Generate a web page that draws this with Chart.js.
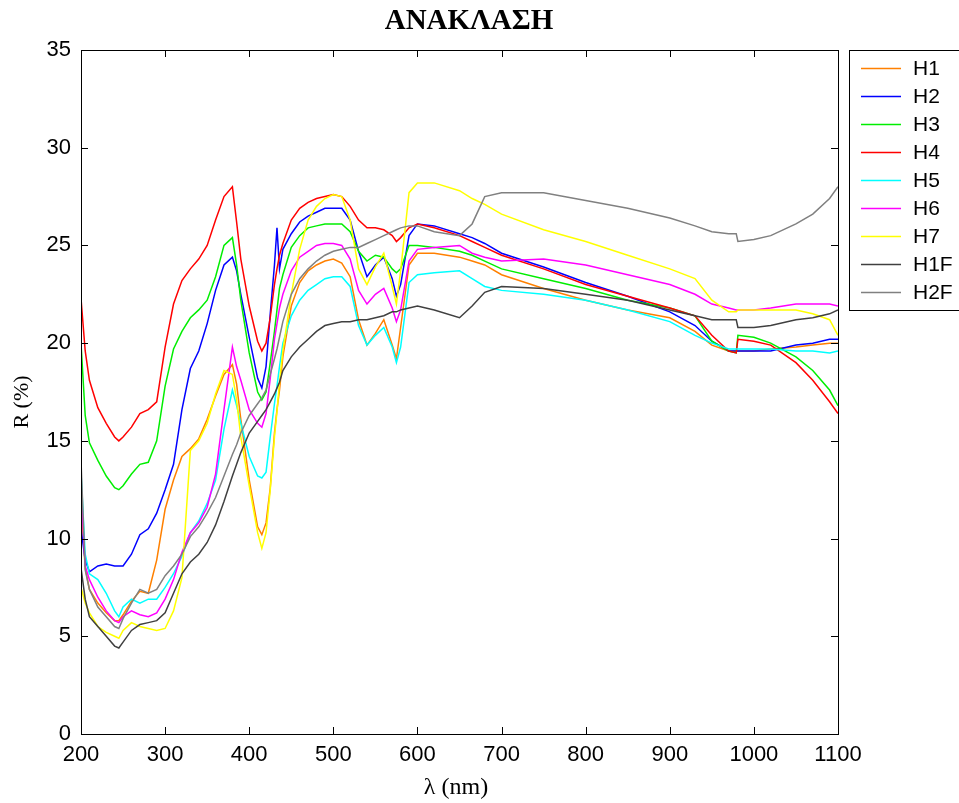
<!DOCTYPE html>
<html><head><meta charset="utf-8">
<script src="https://cdn.jsdelivr.net/npm/chart.js@4"></script>
<style>html,body{margin:0;padding:0;background:#fff;}canvas{display:block;}</style>
</head><body>
<canvas id="c" width="959" height="803"></canvas>
<script>
const wavelengths = [200,205,210,220,230,240,245,250,260,270,280,290,300,310,320,330,340,350,360,370,380,385,390,400,410,415,420,425,430,433,436,440,450,460,470,480,490,500,510,520,530,540,550,560,570,575,580,590,600,620,650,665,680,700,750,800,850,900,930,950,970,979,981,1000,1020,1050,1070,1090,1100];

const H1 = [11.8,8.5,7.4,6.7,6.2,5.8,5.8,6.1,6.8,7.3,7.2,8.9,11.5,13.0,14.2,14.6,15.1,16.1,17.3,18.4,18.9,17.9,16.1,13.0,10.6,10.2,10.8,12.6,15.4,16.6,17.6,19.3,21.9,23.1,23.7,24.0,24.2,24.3,24.1,23.4,21.2,19.9,20.5,21.2,19.9,19.2,20.8,24.0,24.6,24.6,24.4,24.2,24.0,23.5,22.8,22.2,21.7,21.3,20.6,19.9,19.6,19.6,19.6,19.6,19.7,19.8,19.9,20.0,20.0];
const H2 = [10.5,8.9,8.3,8.6,8.7,8.6,8.6,8.6,9.2,10.2,10.5,11.3,12.5,13.8,16.6,18.7,19.6,21.0,22.7,24.0,24.4,23.7,22.5,20.3,18.2,17.7,18.8,21.5,24.0,25.9,23.8,24.8,25.6,26.2,26.5,26.7,26.9,26.9,26.9,26.3,24.7,23.4,24.0,24.4,23.3,22.4,23.0,25.5,26.1,26.0,25.6,25.4,25.1,24.6,23.9,23.1,22.4,21.6,20.9,20.1,19.6,19.6,19.6,19.6,19.6,19.9,20.0,20.2,20.2];
const H3 = [20.0,16.3,14.9,14.0,13.2,12.6,12.5,12.7,13.3,13.8,13.9,15.0,17.8,19.7,20.6,21.3,21.7,22.2,23.4,25.0,25.4,24.0,22.2,19.5,17.5,17.1,17.5,19.0,20.6,21.7,22.8,23.5,24.9,25.5,25.9,26.0,26.1,26.1,26.1,25.7,24.7,24.2,24.5,24.4,23.8,23.6,23.8,25.0,25.0,24.9,24.7,24.5,24.2,23.8,23.3,22.8,22.2,21.8,21.4,20.1,19.6,19.5,20.4,20.3,20.0,19.3,18.6,17.6,16.8];
const H4 = [22.3,19.6,18.1,16.7,15.9,15.2,15.0,15.2,15.7,16.4,16.6,17.0,19.8,22.0,23.2,23.8,24.3,25.0,26.3,27.5,28.0,26.2,24.3,21.9,20.1,19.6,20.0,21.3,23.0,23.8,24.5,25.1,26.3,26.9,27.2,27.4,27.5,27.6,27.5,27.0,26.3,25.9,25.9,25.8,25.5,25.2,25.4,25.9,26.1,25.9,25.5,25.2,24.9,24.5,23.8,23.0,22.4,21.8,21.4,20.4,19.6,19.5,20.2,20.1,19.9,19.0,18.1,17.0,16.4];
const H5 = [13.4,9.2,8.2,7.9,7.2,6.3,6.0,6.5,6.9,6.7,6.9,6.9,7.5,8.2,9.1,10.3,10.9,11.8,13.0,15.6,17.6,16.8,15.9,14.2,13.2,13.1,13.4,15.2,16.9,17.8,18.8,20.0,21.4,22.2,22.7,23.0,23.3,23.4,23.4,22.9,20.9,19.9,20.4,20.8,19.8,19.0,19.8,23.1,23.5,23.6,23.7,23.3,22.9,22.7,22.5,22.2,21.7,21.1,20.4,20.0,19.7,19.7,19.7,19.7,19.7,19.6,19.6,19.5,19.6];
const H6 = [12.5,8.6,7.9,7.0,6.3,5.8,5.7,6.0,6.3,6.1,6.0,6.2,6.9,7.9,9.3,10.3,10.8,11.6,13.3,16.6,19.8,18.8,18.1,16.6,15.9,15.7,16.4,18.2,20.2,21.0,21.8,22.5,23.7,24.4,24.7,25.0,25.1,25.1,25.0,24.3,22.7,22.0,22.5,22.8,21.8,21.1,21.7,24.2,24.8,24.9,25.0,24.6,24.4,24.2,24.3,24.0,23.5,23.0,22.5,22.0,21.8,21.7,21.7,21.7,21.8,22.0,22.0,22.0,21.9];
const H7 = [7.5,6.7,6.2,5.5,5.2,5.0,4.9,5.3,5.7,5.5,5.4,5.3,5.4,6.3,8.0,14.5,15.0,15.9,17.4,18.6,18.4,17.1,15.2,12.7,10.3,9.5,10.3,12.5,15.2,16.5,18.0,19.6,22.5,24.8,26.3,27.0,27.4,27.6,27.5,26.3,23.8,23.0,23.9,24.6,22.9,22.0,23.7,27.7,28.2,28.2,27.8,27.4,27.1,26.6,25.8,25.2,24.5,23.8,23.3,22.2,21.6,21.6,21.7,21.7,21.7,21.7,21.5,21.2,20.4];
const H1F = [8.5,6.9,6.0,5.5,5.0,4.5,4.4,4.7,5.3,5.6,5.7,5.8,6.2,7.2,8.2,8.8,9.2,9.8,10.7,11.9,13.2,13.8,14.4,15.4,16.0,16.3,16.6,17.0,17.4,17.7,18.0,18.6,19.3,19.8,20.2,20.6,20.9,21.0,21.1,21.1,21.2,21.2,21.3,21.4,21.6,21.6,21.7,21.8,21.9,21.7,21.3,21.9,22.6,22.9,22.8,22.5,22.2,21.7,21.4,21.2,21.2,21.2,20.8,20.8,20.9,21.2,21.3,21.5,21.7];
const H2F = [14.0,8.4,7.4,6.5,6.0,5.5,5.4,5.9,6.7,7.4,7.2,7.4,8.1,8.6,9.2,10.1,10.6,11.3,12.1,13.2,14.3,14.8,15.4,16.3,16.9,17.2,17.6,18.4,19.2,19.7,20.3,21.1,22.5,23.3,23.8,24.2,24.5,24.7,24.8,24.9,24.9,25.1,25.3,25.5,25.7,25.8,25.9,26.0,26.0,25.7,25.5,26.1,27.5,27.7,27.7,27.3,26.9,26.4,26.0,25.7,25.6,25.6,25.2,25.3,25.5,26.1,26.6,27.4,28.0];

const seriesNames = ['H1','H2','H3','H4','H5','H6','H7','H1F','H2F'];
const seriesValues = [H1,H2,H3,H4,H5,H6,H7,H1F,H2F];
const seriesColors = ['#ff8000','#0000ff','#00ee00','#ff0000','#00ffff','#ff00ff','#ffff00','#404040','#808080'];
const xTicks = [200,300,400,500,600,700,800,900,1000,1100];
const yTicks = [0,5,10,15,20,25,30,35];
const titleText = 'ΑΝΑΚΛΑΣΗ';
const xLabel = 'λ (nm)';
const yLabel = 'R (%)';

const SANS = '"Liberation Sans", Arial, sans-serif';
const SERIF = '"Liberation Serif", "Times New Roman", serif';

const decor = {
  id: 'decor',
  afterDraw(chart) {
    const ctx = chart.ctx, a = chart.chartArea;
    const xs = chart.scales.x, ys = chart.scales.y;
    ctx.save();
    ctx.strokeStyle = '#000';
    ctx.lineWidth = 1;
    ctx.strokeRect(Math.round(a.left) + 0.5, Math.round(a.top) + 0.5, Math.round(a.right - a.left), Math.round(a.bottom - a.top));
    const tl = 7;
    ctx.beginPath();
    xTicks.forEach(v => {
      const px = Math.round(xs.getPixelForValue(v)) + 0.5;
      ctx.moveTo(px, a.bottom); ctx.lineTo(px, a.bottom - tl);
      ctx.moveTo(px, a.top); ctx.lineTo(px, a.top + tl);
    });
    yTicks.forEach(v => {
      const py = Math.round(ys.getPixelForValue(v)) + 0.5;
      ctx.moveTo(a.left, py); ctx.lineTo(a.left + tl, py);
      ctx.moveTo(a.right, py); ctx.lineTo(a.right - tl, py);
    });
    ctx.stroke();

    ctx.fillStyle = '#000';
    ctx.font = 'bold 29px ' + SERIF;
    ctx.textAlign = 'center'; ctx.textBaseline = 'middle';
    ctx.fillText(titleText, 469, 22);

    ctx.font = '24px ' + SERIF;
    ctx.fillText(xLabel, 456, 788);

    ctx.save();
    ctx.translate(22, 402);
    ctx.rotate(-Math.PI / 2);
    ctx.font = '22px ' + SERIF;
    ctx.fillText(yLabel, 0, 0);
    ctx.restore();

    // legend
    ctx.lineWidth = 1;
    ctx.strokeStyle = '#000';
    ctx.strokeRect(849.5, 50.5, 130, 260);
    ctx.font = '21px ' + SANS;
    ctx.textAlign = 'left';
    seriesNames.forEach((n, i) => {
      const y = 68 + 28 * i;
      ctx.strokeStyle = seriesColors[i];
      ctx.lineWidth = 1.5;
      ctx.beginPath(); ctx.moveTo(861, y + 0.5); ctx.lineTo(901, y + 0.5); ctx.stroke();
      ctx.fillStyle = '#000';
      ctx.fillText(n, 913, y + 1);
    });
    ctx.restore();
  }
};

new Chart(document.getElementById('c'), {
  type: 'line',
  data: {
    datasets: seriesNames.map((n, i) => ({
      label: n,
      data: wavelengths.map((x, j) => ({ x: x, y: seriesValues[i][j] })),
      borderColor: seriesColors[i],
      borderWidth: 1.5,
      pointRadius: 0,
      tension: 0,
      fill: false,
      order: 9 - i
    }))
  },
  options: {
    responsive: false,
    animation: false,
    devicePixelRatio: 1,
    layout: { padding: { top: 50, right: 121, left: 0, bottom: 0 } },
    plugins: { legend: { display: false }, title: { display: false }, tooltip: { enabled: false } },
    scales: {
      x: {
        type: 'linear', min: 200, max: 1100,
        afterBuildTicks: s => { s.ticks = xTicks.map(v => ({ value: v })); },
        afterFit: s => { s.height = 69; },
        grid: { display: false, drawTicks: false },
        border: { display: false },
        ticks: { color: '#000', padding: 8, maxRotation: 0, autoSkip: false, callback: v => String(v), font: { family: SANS, size: 22 } }
      },
      y: {
        type: 'linear', min: 0, max: 35,
        afterBuildTicks: s => { s.ticks = yTicks.map(v => ({ value: v })); },
        afterFit: s => { s.width = 81; },
        grid: { display: false, drawTicks: false },
        border: { display: false },
        ticks: { color: '#000', padding: 10, autoSkip: false, callback: v => String(v), font: { family: SANS, size: 22 } }
      }
    }
  },
  plugins: [decor]
});
</script>
</body></html>
